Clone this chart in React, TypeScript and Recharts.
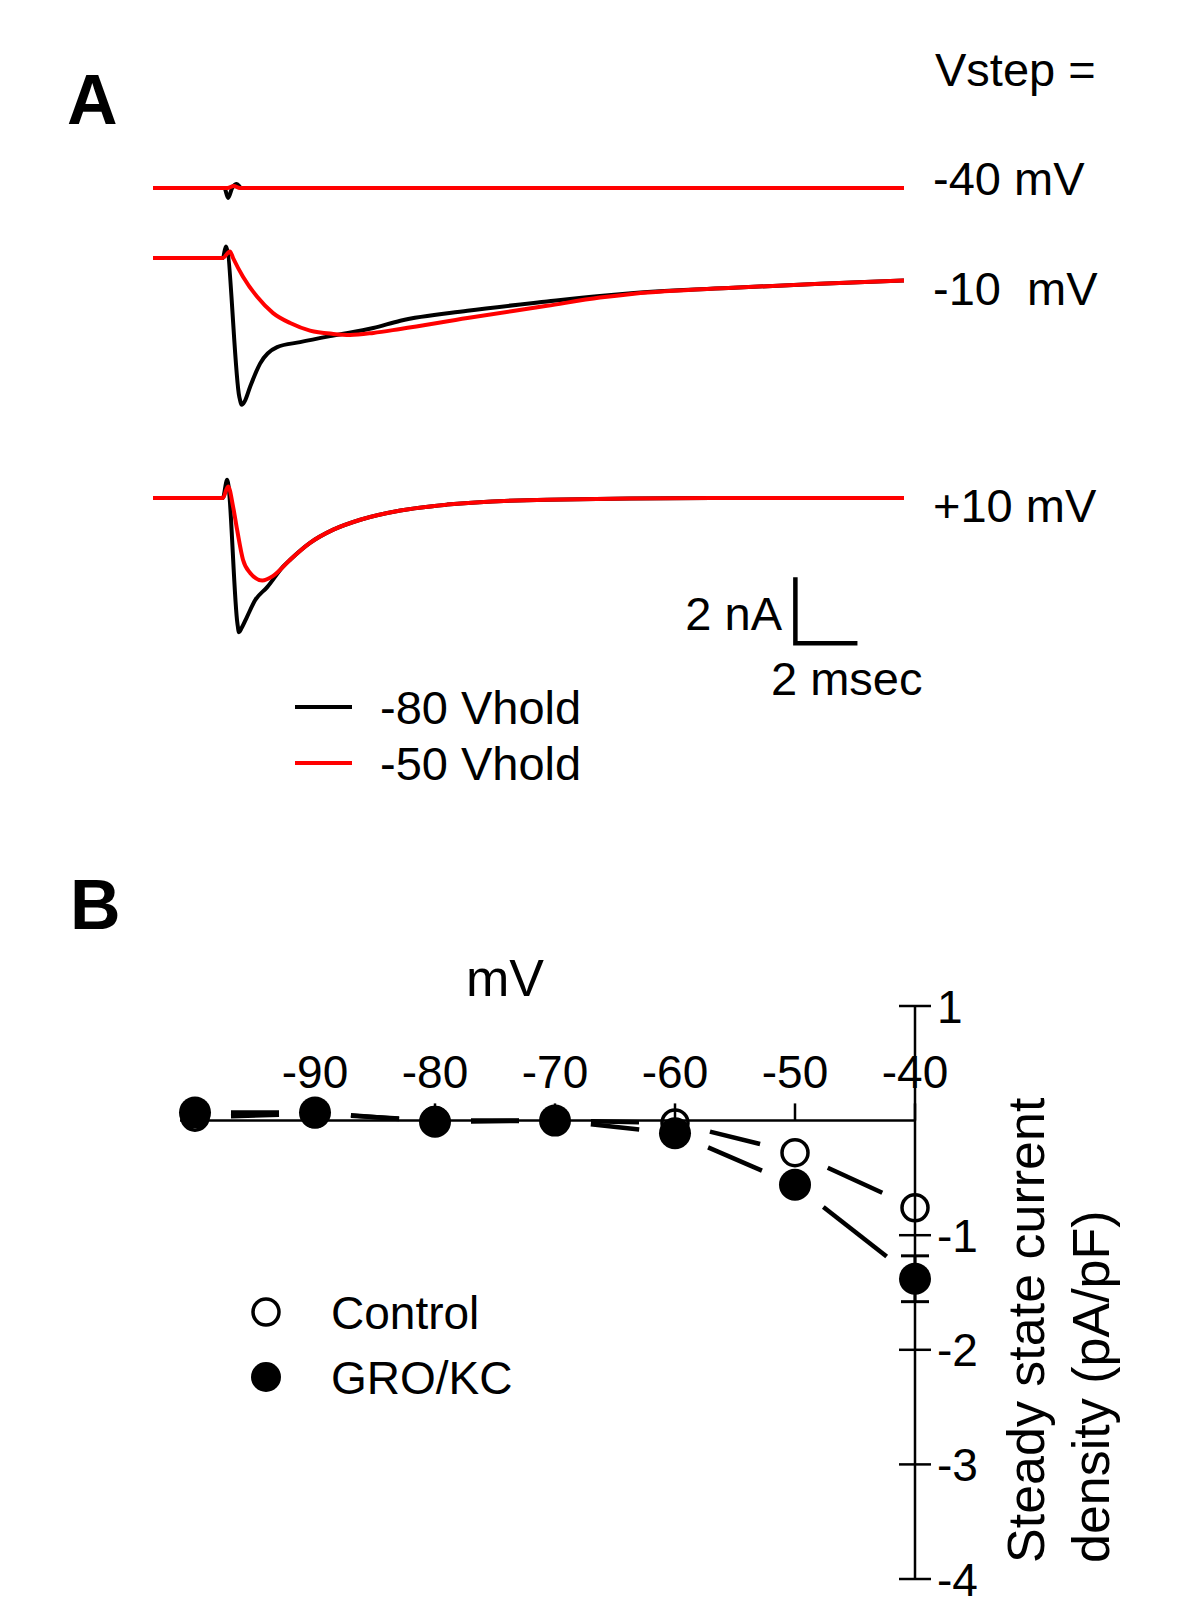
import React from 'react';
import { LineChart, Line, XAxis, YAxis, ScatterChart, Scatter, ErrorBar, ReferenceLine } from 'recharts';

const FONT = '"Liberation Sans", Arial, Helvetica, sans-serif';

// ---------- Panel A: currents (nA, relative to holding) vs time (ms) ----------
const m40BlackT = [0, 2.3, 2.42, 2.55, 2.7, 2.85, 24.2];
const m40BlackI = [0, 0, -0.3, 0.0, 0.12, 0, 0];
const m40RedT = [0, 2.4, 2.6, 2.8, 24.2];
const m40RedI = [0, 0, 0.06, 0, 0];

const m10BlackT = [0, 2.25, 2.35, 2.78, 2.86, 2.95, 3.13, 3.45, 4.0, 4.74, 5.81, 7.1, 7.97, 10.13, 12.7, 14.4, 15.5, 18.7, 21.5, 24.2];
const m10BlackI = [0, 0, 0.35, -4.2, -4.45, -4.35, -3.9, -3.2, -2.7, -2.55, -2.35, -2.12, -1.9, -1.6, -1.32, -1.15, -1.06, -0.9, -0.78, -0.68];
const m10RedT = [0, 2.25, 2.48, 2.58, 2.9, 3.35, 3.87, 4.42, 5.06, 5.81, 6.35, 7.1, 7.97, 10.13, 12.7, 14.4, 15.5, 18.7, 21.5, 24.2];
const m10RedI = [0, 0, 0.2, 0, -0.57, -1.17, -1.67, -1.97, -2.2, -2.3, -2.33, -2.27, -2.15, -1.82, -1.45, -1.2, -1.08, -0.9, -0.78, -0.68];

const p10BlackT = [0, 2.25, 2.39, 2.72, 2.77, 2.85, 3.03, 3.29, 3.68, 4.19, 4.42, 5.06, 5.81, 6.68, 7.97, 9.48, 12.7, 18, 24.2];
const p10BlackI = [0, 0, 0.55, -3.8, -4.07, -3.95, -3.6, -3.1, -2.7, -2.08, -1.87, -1.36, -0.96, -0.66, -0.38, -0.2, -0.05, 0, 0];
const p10RedT = [0, 2.25, 2.42, 2.58, 2.71, 2.9, 3.13, 3.52, 3.87, 4.42, 5.06, 5.81, 6.68, 7.97, 9.48, 12.7, 18, 24.2];
const p10RedI = [0, 0, 0.35, -0.26, -0.96, -1.87, -2.27, -2.5, -2.36, -1.87, -1.36, -0.96, -0.66, -0.38, -0.2, -0.05, 0, 0];

// scale bar: 2 ms x 2 nA
const scaleBarMs = 2;
const scaleBarNA = 2;
const scaleBarT0 = 20.7;
const scaleBarI0 = -4.4;

// ---------- Panel B: steady state current density ----------
const voltages = [-100, -90, -80, -70, -60, -50, -40];
const controlI = [0.03, 0.06, 0.0, 0.0, -0.02, -0.28, -0.76];
const groI = [0.07, 0.07, -0.01, 0.0, -0.11, -0.56, -1.38];
const groErr = [0.02, 0.02, 0.02, 0.02, 0.03, 0.04, 0.2];
const xTicks = [-90, -80, -70, -60, -50, -40];
const yTicks = [1, -1, -2, -3, -4];

const zip = (t: number[], v: number[]) => t.map((x, i) => ({ t: x, v: v[i] }));

// layout
const A_LEFT = 153;
const A_W = 751;
const PX_PER_NA = 33;
const M = 10;

function TraceChart({ top, domain, black, red, children }: any) {
  const h = (domain[1] - domain[0]) * PX_PER_NA;
  return (
    <div style={{ position: 'absolute', left: A_LEFT - M, top: top - M }}>
      <LineChart width={A_W + 2 * M} height={h + 2 * M} margin={{ top: M, right: M, bottom: M, left: M }}>
        <XAxis type="number" dataKey="t" domain={[0, 24.2]} hide />
        <YAxis type="number" domain={domain} hide />
        <Line data={black} dataKey="v" type="monotone" stroke="#000" strokeWidth={4} dot={false} isAnimationActive={false} />
        <Line data={red} dataKey="v" type="monotone" stroke="#ff0000" strokeWidth={4} dot={false} isAnimationActive={false} />
        {children}
      </LineChart>
    </div>
  );
}

const GAP = 36;
const DashShape = (p: any) => {
  const { x1, y1, x2, y2 } = p;
  const dx = x2 - x1;
  const dy = y2 - y1;
  const L = Math.hypot(dx, dy);
  if (!(L > 2 * GAP)) return <g />;
  const ux = dx / L;
  const uy = dy / L;
  return (
    <line x1={x1 + ux * GAP} y1={y1 + uy * GAP} x2={x2 - ux * GAP} y2={y2 - uy * GAP} stroke="#000" strokeWidth={4.5} />
  );
};

const YTick = (p: any) => {
  const { x, y, payload } = p;
  return (
    <g>
      <line x1={x - 16} x2={x + 16} y1={y} y2={y} stroke="#000" strokeWidth={2.5} />
      <text x={x + 22} y={y} dy="0.36em" fontSize={46} fontFamily={FONT} fill="#000">
        {String(payload.value)}
      </text>
    </g>
  );
};

export default function App() {
  const scaleBar = [
    { t: scaleBarT0, v: scaleBarI0 + scaleBarNA },
    { t: scaleBarT0, v: scaleBarI0 },
    { t: scaleBarT0 + scaleBarMs, v: scaleBarI0 },
  ];
  const controlData = voltages.map((x, i) => ({ x, y: controlI[i] }));
  const groData = voltages.map((x, i) => ({ x, y: groI[i], err: groErr[i] }));
  const segs: any[] = [];
  [controlI, groI].forEach((arr, s) => {
    for (let i = 0; i < voltages.length - 1; i++) {
      segs.push(
        <ReferenceLine
          key={`s${s}-${i}`}
          segment={[{ x: voltages[i], y: arr[i] }, { x: voltages[i + 1], y: arr[i + 1] }]}
          shape={DashShape}
          stroke="#000"
        />
      );
    }
  });

  const txt = { fontFamily: FONT, fill: '#000' } as any;

  return (
    <div style={{ position: 'absolute', left: 0, top: 0, width: 1200, height: 1623, background: '#fff', overflow: 'hidden' }}>
      <TraceChart top={155} domain={[-1, 1]} black={zip(m40BlackT, m40BlackI)} red={zip(m40RedT, m40RedI)} />
      <TraceChart top={225} domain={[-5, 1]} black={zip(m10BlackT, m10BlackI)} red={zip(m10RedT, m10RedI)} />
      <TraceChart top={465} domain={[-5, 1]} black={zip(p10BlackT, p10BlackI)} red={zip(p10RedT, p10RedI)}>
        <Line data={scaleBar} dataKey="v" type="linear" stroke="#000" strokeWidth={4.5} dot={false} isAnimationActive={false} />
      </TraceChart>

      <div style={{ position: 'absolute', left: 170, top: 976 }}>
        <ScatterChart width={825} height={633} margin={{ top: 30, right: 0, bottom: 30, left: 10 }}>
          <XAxis type="number" dataKey="x" domain={[-101.25, -40]} hide />
          <YAxis
            type="number"
            dataKey="y"
            orientation="right"
            domain={[-4, 1]}
            ticks={yTicks}
            interval={0}
            width={80}
            axisLine={{ stroke: '#000', strokeWidth: 2.5 }}
            tickLine={false}
            tickSize={0}
            tickMargin={0}
            tick={(p: any) => <YTick {...p} />}
          />
          <ReferenceLine y={0} stroke="#000" strokeWidth={2.5} />
          {xTicks.map((v) => (
            <ReferenceLine
              key={`xt${v}`}
              segment={[{ x: v, y: 0 }, { x: v, y: 0.15 }]}
              stroke="#000"
              strokeWidth={2.5}
              label={{ value: String(v), position: 'top', offset: 15, fontSize: 46, fill: '#000', fontFamily: FONT }}
            />
          ))}
          {segs}
          <Scatter
            data={controlData}
            isAnimationActive={false}
            shape={(p: any) => <circle cx={p.cx} cy={p.cy} r={13} fill="none" stroke="#000" strokeWidth={3.5} />}
          />
          <Scatter
            data={groData}
            isAnimationActive={false}
            shape={(p: any) => <circle cx={p.cx} cy={p.cy} r={16} fill="#000" />}
          >
            <ErrorBar dataKey="err" direction="y" width={14} stroke="#000" strokeWidth={3} />
          </Scatter>
        </ScatterChart>
      </div>

      <svg width={1200} height={1623} style={{ position: 'absolute', left: 0, top: 0, pointerEvents: 'none' }}>
        <text x={67} y={124} fontSize={70} fontWeight="bold" {...txt}>A</text>
        <text x={70} y={929} fontSize={70} fontWeight="bold" {...txt}>B</text>
        <text x={935} y={86} fontSize={47} {...txt}>Vstep =</text>
        <text x={933} y={195} fontSize={47} {...txt}>-40 mV</text>
        <text x={933} y={305} fontSize={47} style={{ whiteSpace: 'pre' }} {...txt}>-10  mV</text>
        <text x={933} y={522} fontSize={47} {...txt}>+10 mV</text>
        <text x={782} y={630} fontSize={47} textAnchor="end" {...txt}>2 nA</text>
        <text x={771} y={695} fontSize={47} {...txt}>2 msec</text>
        <line x1={295} x2={352} y1={707} y2={707} stroke="#000" strokeWidth={4} />
        <line x1={295} x2={352} y1={763} y2={763} stroke="#ff0000" strokeWidth={4} />
        <text x={380} y={724} fontSize={47} {...txt}>-80 Vhold</text>
        <text x={380} y={780} fontSize={47} {...txt}>-50 Vhold</text>

        <text x={466} y={996} fontSize={52} {...txt}>mV</text>
        <circle cx={266} cy={1312} r={13} fill="none" stroke="#000" strokeWidth={3.5} />
        <text x={331} y={1329} fontSize={46} {...txt}>Control</text>
        <circle cx={266} cy={1377} r={15} fill="#000" />
        <text x={331} y={1394} fontSize={46} {...txt}>GRO/KC</text>
        <text transform="translate(1044,1563) rotate(-90)" fontSize={52} {...txt}>Steady state current</text>
        <text transform="translate(1109,1563) rotate(-90)" fontSize={52} {...txt}>density (pA/pF)</text>
      </svg>
    </div>
  );
}
